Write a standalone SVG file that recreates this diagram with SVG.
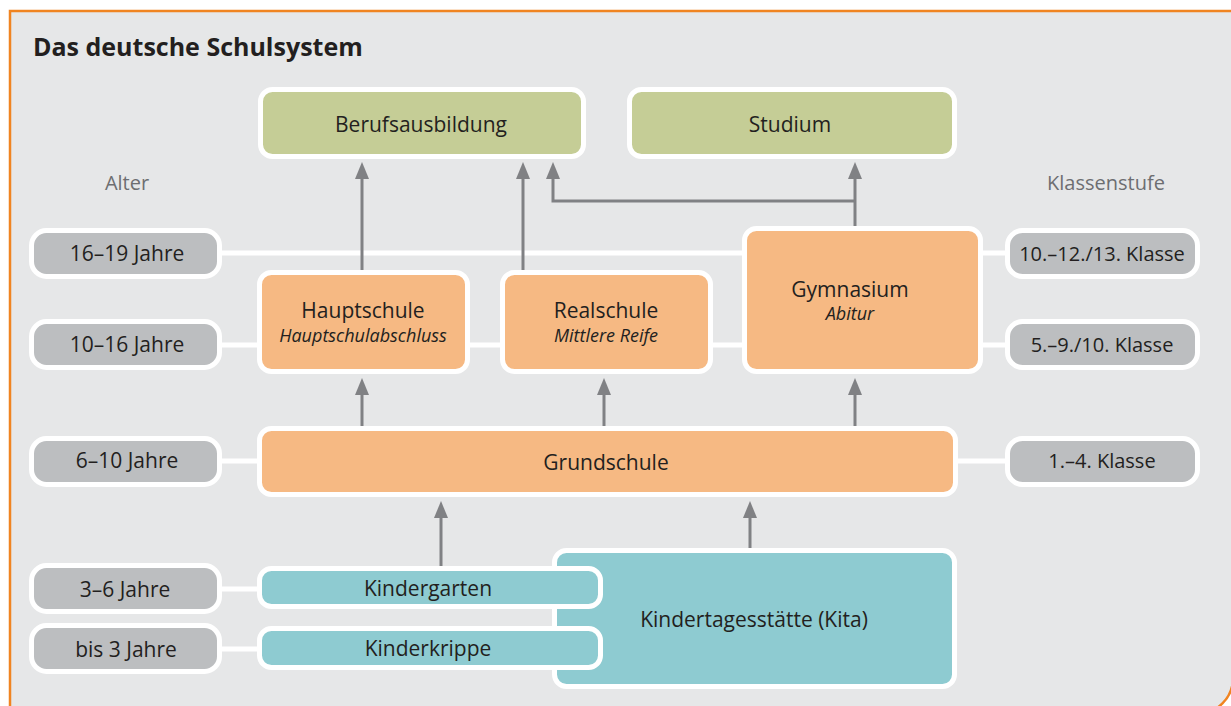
<svg xmlns="http://www.w3.org/2000/svg" width="1231" height="706" viewBox="0 0 1231 706">
<defs>
<style>
text{font-family:"Open Sans","Noto Sans",sans-serif;fill:#231f20;text-anchor:middle}
.t{font-size:25px;font-weight:bold;text-anchor:start}
.n{font-size:21px}
.s{font-size:18px;font-style:italic}
.p{font-size:21px}
.k{font-size:20px}
.lab{font-size:20px;fill:#6d6e71}
.box{stroke:#fff;stroke-width:5}
.g{fill:#c5cd96}
.o{fill:#f6b983}
.c{fill:#8ecbd1}
.pill{fill:#bcbec0;stroke:#fff;stroke-width:5}
.wl{stroke:#fff;stroke-width:5;fill:none}
.ar{stroke:#808184;stroke-width:3;fill:none}
</style>
<marker id="ah" viewBox="0 0 17 14" refX="11" refY="7" markerWidth="17" markerHeight="14" markerUnits="userSpaceOnUse" orient="auto">
<path d="M0,0 L17,7 L0,14 Z" fill="#808184"/>
</marker>
</defs>
<rect x="0" y="0" width="1231" height="706" fill="#fff"/>
<path d="M10,720 V11 H1233 V678 A36,36 0 0 1 1197,714 Z" fill="#e6e7e8" stroke="#f08421" stroke-width="2.5"/>
<text class="t" x="33" y="56">Das deutsche Schulsystem</text>
<text class="lab" x="127" y="190">Alter</text>
<text class="lab" x="1106" y="190">Klassenstufe</text>
<g id="guides">
<path class="wl" d="M220,253 H1008 M220,345 H1008 M220,461 H1008 M220,589 H262 M220,649 H262"/>
</g>
<g id="connectors">
<path class="ar" d="M362,272 V168" marker-end="url(#ah)"/>
<path class="ar" d="M523,272 V168" marker-end="url(#ah)"/>
<path class="ar" d="M855,228 V168" marker-end="url(#ah)"/>
<path class="ar" d="M855,201 H553 V168" marker-end="url(#ah)"/>
<path class="ar" d="M362,428 V384" marker-end="url(#ah)"/>
<path class="ar" d="M604,428 V384" marker-end="url(#ah)"/>
<path class="ar" d="M855,428 V384" marker-end="url(#ah)"/>
<path class="ar" d="M441,568 V507" marker-end="url(#ah)"/>
<path class="ar" d="M750,550 V507" marker-end="url(#ah)"/>
</g>
<g id="berufsausbildung"><rect class="box g" x="260.5" y="89.5" width="323" height="67" rx="12"/><text class="n" x="421" y="132">Berufsausbildung</text></g>
<g id="studium"><rect class="box g" x="629.5" y="89.5" width="325" height="67" rx="12"/><text class="n" x="790" y="132">Studium</text></g>
<g id="hauptschule"><rect class="box o" x="259.5" y="272.5" width="208" height="99" rx="12"/><text class="n" x="363" y="318">Hauptschule</text><text class="s" x="363" y="342">Hauptschulabschluss</text></g>
<g id="realschule"><rect class="box o" x="502.5" y="272.5" width="208" height="99" rx="12"/><text class="n" x="606" y="318">Realschule</text><text class="s" x="606" y="342">Mittlere Reife</text></g>
<g id="gymnasium"><rect class="box o" x="744.5" y="228.5" width="236" height="143" rx="12"/><text class="n" x="850" y="297">Gymnasium</text><text class="s" x="850" y="320">Abitur</text></g>
<g id="grundschule"><rect class="box o" x="259.5" y="428.5" width="696" height="66" rx="12"/><text class="n" x="606" y="470">Grundschule</text></g>
<g id="kita"><rect class="box c" x="554.5" y="550.5" width="400" height="136" rx="12"/><text class="n" x="754" y="627">Kindertagesstätte (Kita)</text></g>
<g id="kindergarten"><rect class="box c" x="259.5" y="568.5" width="341" height="38" rx="12"/><text class="n" x="428" y="596">Kindergarten</text></g>
<g id="kinderkrippe"><rect class="box c" x="259.5" y="628.5" width="341" height="39" rx="12"/><text class="n" x="428" y="656">Kinderkrippe</text></g>
<g id="age-16-19"><rect class="pill" x="31.5" y="230.5" width="188" height="46" rx="15"/><text class="p" x="127" y="261">16–19 Jahre</text></g>
<g id="age-10-16"><rect class="pill" x="31.5" y="321.5" width="188" height="46" rx="15"/><text class="p" x="127" y="352">10–16 Jahre</text></g>
<g id="age-6-10"><rect class="pill" x="31.5" y="438.5" width="188" height="46" rx="15"/><text class="p" x="127" y="468">6–10 Jahre</text></g>
<g id="age-3-6"><rect class="pill" x="31.5" y="565.5" width="188" height="46" rx="15"/><text class="p" x="125" y="597">3–6 Jahre</text></g>
<g id="age-0-3"><rect class="pill" x="31.5" y="625.5" width="188" height="46" rx="15"/><text class="p" x="126" y="657">bis 3 Jahre</text></g>
<g id="kl-10-13"><rect class="pill" x="1007.5" y="230.5" width="190" height="46" rx="15"/><text class="k" x="1102" y="261">10.–12./13. Klasse</text></g>
<g id="kl-5-10"><rect class="pill" x="1007.5" y="321.5" width="190" height="46" rx="15"/><text class="k" x="1102" y="352">5.–9./10. Klasse</text></g>
<g id="kl-1-4"><rect class="pill" x="1007.5" y="438.5" width="190" height="46" rx="15"/><text class="k" x="1102" y="468">1.–4. Klasse</text></g>
</svg>
